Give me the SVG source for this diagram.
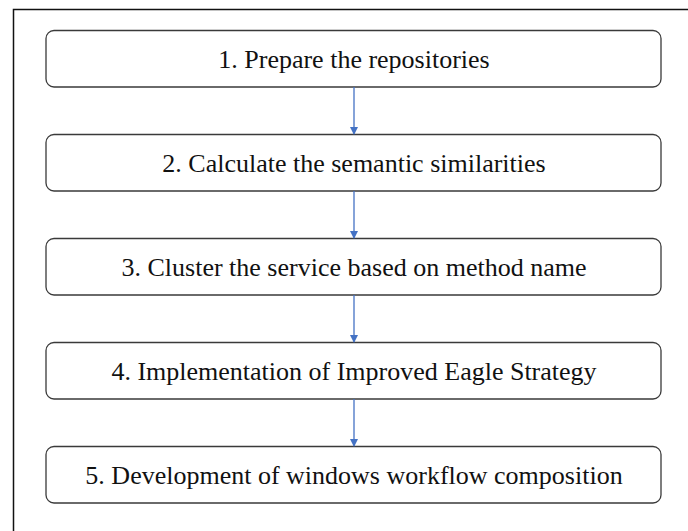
<svg xmlns="http://www.w3.org/2000/svg" width="688" height="531" viewBox="0 0 688 531">
<style>
.box{fill:#fff;stroke:#3a3a3a;stroke-width:1.3}
.t{font-family:"Liberation Serif","Times New Roman",serif;font-size:26px;fill:#111;text-anchor:middle}
.c{stroke:#4472C4;stroke-width:1.3;fill:none}
</style>
<defs>
<marker id="ah" markerWidth="8" markerHeight="8" refX="7" refY="4" orient="auto" markerUnits="userSpaceOnUse">
<path d="M0,0 L8,4 L0,8 z" fill="#4472C4"/>
</marker>
</defs>
<rect x="0" y="0" width="688" height="531" fill="#fff"/>
<path d="M13.5,540 V9.5 H700" fill="none" stroke="#111" stroke-width="1.5"/>
<g id="n1"><rect class="box" x="46" y="30.5" width="615" height="56.5" rx="8"/><text class="t" x="354" y="68">1. Prepare the repositories</text></g>
<g id="n2"><rect class="box" x="46" y="134.5" width="615" height="56.5" rx="8"/><text class="t" x="354" y="172">2. Calculate the semantic similarities</text></g>
<g id="n3"><rect class="box" x="46" y="238.5" width="615" height="56.5" rx="8"/><text class="t" x="354" y="276">3. Cluster the service based on method name</text></g>
<g id="n4"><rect class="box" x="46" y="342.5" width="615" height="56.5" rx="8"/><text class="t" x="354" y="380">4. Implementation of Improved Eagle Strategy</text></g>
<g id="n5"><rect class="box" x="46" y="446.5" width="615" height="56.5" rx="8"/><text class="t" x="354" y="484">5. Development of windows workflow composition</text></g>
<g id="connectors">
<path class="c" d="M354,87 V134" marker-end="url(#ah)"/>
<path class="c" d="M354,191 V238" marker-end="url(#ah)"/>
<path class="c" d="M354,295 V342" marker-end="url(#ah)"/>
<path class="c" d="M354,399 V446" marker-end="url(#ah)"/>
</g>
</svg>
